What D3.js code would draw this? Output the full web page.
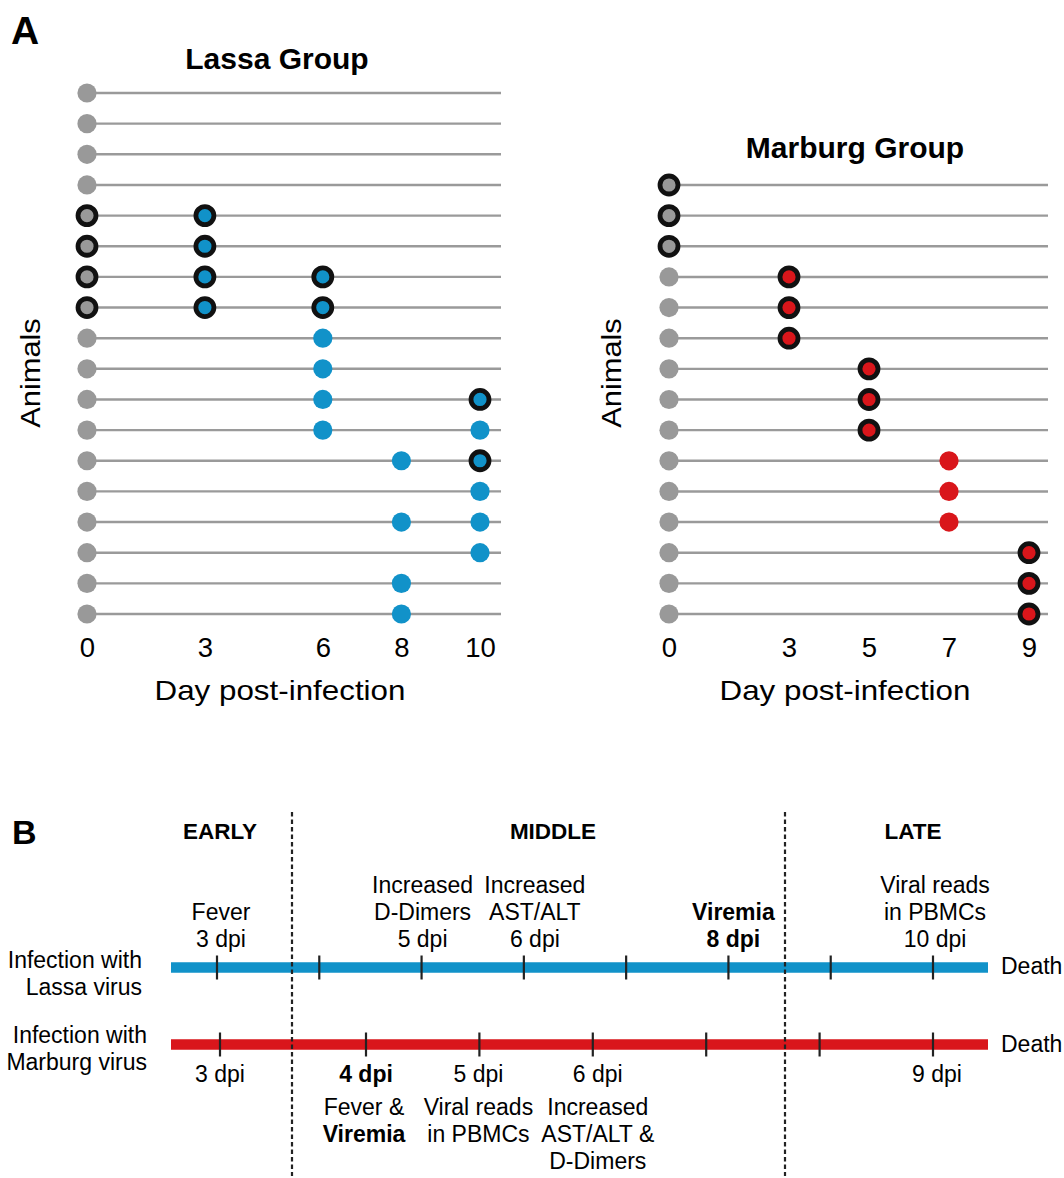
<!DOCTYPE html>
<html>
<head>
<meta charset="utf-8">
<script src="https://cdn.jsdelivr.net/npm/d3@7"></script>
<style>
  html, body { margin: 0; padding: 0; background: #fff; }
  svg { display: block; }
  text { font-family: "Liberation Sans", Arial, Helvetica, sans-serif; fill: #000; }
</style>
</head>
<body>
<svg id="fig" width="1064" height="1178"></svg>
<script>
// ---------- Panel A data ----------
// Sampling days for each animal (row order top to bottom); day 0 is the pre-infection baseline.
const lassaTickDays = [0, 3, 6, 8, 10];
const lassaSamples = [
  [0], [0], [0], [0],
  [0, 3], [0, 3], [0, 3, 6], [0, 3, 6],
  [0, 6], [0, 6], [0, 6, 10], [0, 6, 10],
  [0, 8, 10], [0, 10], [0, 8, 10], [0, 10], [0, 8], [0, 8]
];
// Samples marked with a black ring
const lassaRinged = [
  [], [], [], [],
  [0, 3], [0, 3], [0, 3, 6], [0, 3, 6],
  [], [], [10], [],
  [10], [], [], [], [], []
];

const marburgTickDays = [0, 3, 5, 7, 9];
const marburgSamples = [
  [0], [0], [0],
  [0, 3], [0, 3], [0, 3],
  [0, 5], [0, 5], [0, 5],
  [0, 7], [0, 7], [0, 7],
  [0, 9], [0, 9], [0, 9]
];
const marburgRinged = [
  [0], [0], [0],
  [3], [3], [3],
  [5], [5], [5],
  [], [], [],
  [9], [9], [9]
];

// ---------- Panel B data ----------
const phases = ["EARLY", "MIDDLE", "LATE"];
const lassaTimelineDays = [3, 4, 5, 6, 7, 8, 9, 10];
const marburgTimelineDays = [3, 4, 5, 6, 7, 8, 9];

const lassaEvents = [
  { day: 3,  lines: ["Fever", "3 dpi"], bold: [false, false] },
  { day: 5,  lines: ["Increased", "D-Dimers", "5 dpi"], bold: [false, false, false] },
  { day: 6,  lines: ["Increased", "AST/ALT", "6 dpi"], bold: [false, false, false] },
  { day: 8,  lines: ["Viremia", "8 dpi"], bold: [true, true] },
  { day: 10, lines: ["Viral reads", "in PBMCs", "10 dpi"], bold: [false, false, false] }
];
const marburgDayLabels = [
  { day: 3, text: "3 dpi", bold: false },
  { day: 4, text: "4 dpi", bold: true },
  { day: 5, text: "5 dpi", bold: false },
  { day: 6, text: "6 dpi", bold: false },
  { day: 9, text: "9 dpi", bold: false }
];
const marburgEvents = [
  { day: 4, lines: ["Fever &", "Viremia"], bold: [false, true] },
  { day: 5, lines: ["Viral reads", "in PBMCs"], bold: [false, false] },
  { day: 6, lines: ["Increased", "AST/ALT &", "D-Dimers"], bold: [false, false, false] }
];

// ---------- styling ----------
const GREY = "#999999";
const BLUE = "#1192c9";
const RED = "#d9161b";
const RULE = "#9a9a9a";
const INK = "#111111";
const B_FONT = "23px";

const svg = d3.select("#fig");

// ---------- Panel A ----------
function dotPanel(opts) {
  const g = svg.append("g");
  const n = opts.samples.length;
  const x = d3.scaleLinear().domain([0, d3.max(opts.ticks)]).range(opts.xRange);
  const y = d3.scalePoint().domain(d3.range(n)).range(opts.yRange);

  // animal rows
  g.selectAll("line.row").data(d3.range(n)).join("line")
    .attr("class", "row")
    .attr("x1", x(0)).attr("x2", opts.rowEnd)
    .attr("y1", d => y(d)).attr("y2", d => y(d))
    .attr("stroke", RULE).attr("stroke-width", 2.4);

  // samples
  const pts = [];
  opts.samples.forEach((days, i) => {
    days.forEach(dd => pts.push({ row: i, day: dd, ring: opts.ringed[i].includes(dd) }));
  });
  g.selectAll("circle.pt").data(pts).join("circle")
    .attr("class", "pt")
    .attr("cx", d => x(d.day))
    .attr("cy", d => y(d.row))
    .attr("r", d => d.ring ? 9 : 9.6)
    .attr("fill", d => d.day === 0 ? GREY : opts.color)
    .attr("stroke", d => d.ring ? INK : "none")
    .attr("stroke-width", d => d.ring ? 4.8 : 0);

  // x axis (labels only)
  const axis = d3.axisBottom(x).tickValues(opts.ticks).tickSize(0).tickPadding(0)
    .tickFormat(d3.format("d"));
  const ax = g.append("g").attr("transform", `translate(0,${opts.tickBaseline - 20})`).call(axis);
  ax.select(".domain").remove();
  ax.selectAll("text").attr("dy", 0).attr("y", 20)
    .style("font-family", "'Liberation Sans', Arial, sans-serif")
    .style("font-size", "27.5px").attr("fill", "#000");

  // titles
  g.append("text").attr("x", opts.titleX).attr("y", opts.titleY)
    .attr("text-anchor", "middle").style("font-size", "30px").style("font-weight", "bold")
    .text(opts.title);
  g.append("text").attr("transform", `translate(${opts.xTitleX},700) scale(1.12,1)`)
    .attr("text-anchor", "middle").style("font-size", "28px")
    .text("Day post-infection");
  g.append("text").attr("transform", `translate(${opts.yTitleX},373) rotate(-90) scale(1.1,1)`)
    .attr("text-anchor", "middle").style("font-size", "28px")
    .text("Animals");
}

dotPanel({
  samples: lassaSamples, ringed: lassaRinged, ticks: lassaTickDays, color: BLUE,
  xRange: [87, 480], rowEnd: 501, yRange: [93, 614], tickBaseline: 657,
  title: "Lassa Group", titleX: 277, titleY: 69, xTitleX: 280, yTitleX: 40
});
dotPanel({
  samples: marburgSamples, ringed: marburgRinged, ticks: marburgTickDays, color: RED,
  xRange: [669, 1029], rowEnd: 1048, yRange: [185, 614], tickBaseline: 657,
  title: "Marburg Group", titleX: 855, titleY: 158, xTitleX: 845, yTitleX: 621
});

svg.append("text").attr("x", 11).attr("y", 44)
  .style("font-size", "39px").style("font-weight", "bold").text("A");

// ---------- Panel B ----------
svg.append("text").attr("x", 12).attr("y", 844)
  .style("font-size", "34px").style("font-weight", "bold").text("B");

const xL = d3.scaleLinear().domain([3, 10]).range([217, 933]);
const xM = d3.scaleLinear().domain([3, 4, 9]).range([220, 366, 933]);
const barStart = 171, barEnd = 988;
const yLassa = 967.5, yMarburg = 1044.5;
const lineGap = 27;
// small horizontal nudges for a few label stacks
const lassaNudge = { 3: 4, 5: 1, 6: 11, 8: 5, 10: 2 };
const marburgNudge = { 3: 0, 4: 0, 5: -1, 6: 5, 9: 4 };

// phase headings
const phaseCenters = [220, 553, 913];
svg.selectAll("text.phase").data(phases).join("text")
  .attr("class", "phase")
  .attr("x", (d, i) => phaseCenters[i]).attr("y", 839)
  .attr("text-anchor", "middle").style("font-size", "22.5px").style("font-weight", "bold")
  .text(d => d);

// timeline bars
function timelineBar(y, color) {
  svg.append("line").attr("x1", barStart).attr("x2", barEnd).attr("y1", y).attr("y2", y)
    .attr("stroke", color).attr("stroke-width", 10.5);
}
timelineBar(yLassa, BLUE);
timelineBar(yMarburg, RED);

// tick marks on bars
svg.selectAll("line.tl").data(lassaTimelineDays).join("line")
  .attr("class", "tl")
  .attr("x1", d => xL(d)).attr("x2", d => xL(d))
  .attr("y1", yLassa - 12).attr("y2", yLassa + 12)
  .attr("stroke", "#222").attr("stroke-width", 2.2);
svg.selectAll("line.tm").data(marburgTimelineDays).join("line")
  .attr("class", "tm")
  .attr("x1", d => xM(d)).attr("x2", d => xM(d))
  .attr("y1", yMarburg - 12).attr("y2", yMarburg + 12)
  .attr("stroke", "#222").attr("stroke-width", 2.2);

// phase separators
[292, 785].forEach(xp => {
  svg.append("line").attr("x1", xp).attr("x2", xp).attr("y1", 812).attr("y2", 1176)
    .attr("stroke", "#222").attr("stroke-width", 2.2).attr("stroke-dasharray", "4.5,3");
});

// row labels
function rowLabel(lines, xEnd, firstBaseline) {
  lines.forEach((t, i) => {
    svg.append("text").attr("x", xEnd).attr("y", firstBaseline + i * lineGap)
      .attr("text-anchor", "end").style("font-size", B_FONT).text(t);
  });
}
rowLabel(["Infection with", "Lassa virus"], 142, 968);
rowLabel(["Infection with", "Marburg virus"], 147, 1043);

svg.append("text").attr("x", 1001).attr("y", 974).style("font-size", B_FONT).text("Death");
svg.append("text").attr("x", 1001).attr("y", 1052).style("font-size", B_FONT).text("Death");

// Lassa annotations stacked upward from the bar
lassaEvents.forEach(ev => {
  const n = ev.lines.length;
  ev.lines.forEach((t, i) => {
    svg.append("text")
      .attr("x", xL(ev.day) + (lassaNudge[ev.day] || 0))
      .attr("y", 947 - (n - 1 - i) * lineGap)
      .attr("text-anchor", "middle").style("font-size", B_FONT)
      .style("font-weight", ev.bold[i] ? "bold" : "normal")
      .text(t);
  });
});

// Marburg day labels and annotations below the bar
marburgDayLabels.forEach(d => {
  svg.append("text").attr("x", xM(d.day) + (marburgNudge[d.day] || 0)).attr("y", 1082)
    .attr("text-anchor", "middle").style("font-size", B_FONT)
    .style("font-weight", d.bold ? "bold" : "normal").text(d.text);
});
marburgEvents.forEach(ev => {
  ev.lines.forEach((t, i) => {
    svg.append("text")
      .attr("x", xM(ev.day) + (marburgNudge[ev.day] || 0) - (ev.day === 4 ? 2 : 0))
      .attr("y", 1115 + i * lineGap)
      .attr("text-anchor", "middle").style("font-size", B_FONT)
      .style("font-weight", ev.bold[i] ? "bold" : "normal")
      .text(t);
  });
});
</script>
</body>
</html>
